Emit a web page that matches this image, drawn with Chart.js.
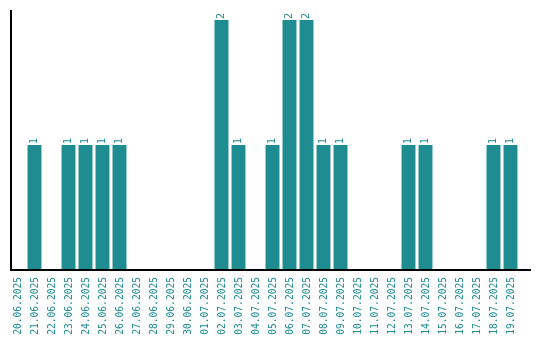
<!DOCTYPE html>
<html>
<head>
<meta charset="utf-8">
<script src="https://cdn.jsdelivr.net/npm/chart.js@4/dist/chart.umd.min.js"></script>
<style>
  html, body { margin: 0; padding: 0; background: #fff; }
  #wrap { width: 540px; height: 340px; }
</style>
</head>
<body>
<div id="wrap"><canvas id="dayChart"></canvas></div>
<script>
// Data
const days = ['20.06.2025','21.06.2025','22.06.2025','23.06.2025','24.06.2025','25.06.2025',
  '26.06.2025','27.06.2025','28.06.2025','29.06.2025','30.06.2025','01.07.2025','02.07.2025',
  '03.07.2025','04.07.2025','05.07.2025','06.07.2025','07.07.2025','08.07.2025','09.07.2025',
  '10.07.2025','11.07.2025','12.07.2025','13.07.2025','14.07.2025','15.07.2025','16.07.2025',
  '17.07.2025','18.07.2025','19.07.2025'];
const counts = [0,1,0,1,1,1,1,0,0,0,0,0,2,1,0,1,2,2,1,1,0,0,0,1,1,0,0,0,1,1];

const teal = '#1f8c92';
const monoFont = '"DejaVu Sans Mono", monospace';

// value labels above bars + axis lines
const extras = {
    id: 'extras',
    afterDatasetsDraw(chart) {
        const ctx = chart.ctx;
        const area = chart.chartArea;
        ctx.save();
        ctx.strokeStyle = '#000';
        ctx.lineWidth = 2;
        ctx.beginPath();
        ctx.moveTo(11, 10);
        ctx.lineTo(11, area.bottom);
        ctx.lineTo(531, area.bottom);
        ctx.stroke();

        ctx.fillStyle = teal;
        ctx.font = '10px ' + monoFont;
        ctx.textAlign = 'left';
        ctx.textBaseline = 'middle';
        chart.getDatasetMeta(0).data.forEach((bar, i) => {
            if (!counts[i]) return;
            ctx.save();
            ctx.translate(bar.x, bar.y - 1);
            ctx.rotate(-Math.PI / 2);
            ctx.fillText(String(counts[i]), 0, 0);
            ctx.restore();
        });
        ctx.restore();
    }
};

new Chart(document.getElementById('dayChart'), {
    type: 'bar',
    data: {
        labels: days,
        datasets: [{
            data: counts,
            backgroundColor: teal,
            barPercentage: 0.82,
            categoryPercentage: 1
        }]
    },
    options: {
        responsive: true,
        maintainAspectRatio: false,
        animation: false,
        layout: { padding: { left: 9, right: 21, top: 10, bottom: 0 } },
        plugins: { legend: { display: false }, tooltip: { enabled: false } },
        scales: {
            y: { display: false, min: 0, max: 2.08 },
            x: {
                grid: { display: false, drawTicks: false },
                border: { display: false },
                afterFit: (scale) => { scale.height = 70; },
                ticks: {
                    color: teal,
                    font: { family: monoFont, size: 9.6 },
                    maxRotation: 90,
                    minRotation: 90,
                    autoSkip: false,
                    padding: 7,
                    labelOffset: 1
                }
            }
        }
    },
    plugins: [extras]
});
</script>
</body>
</html>
